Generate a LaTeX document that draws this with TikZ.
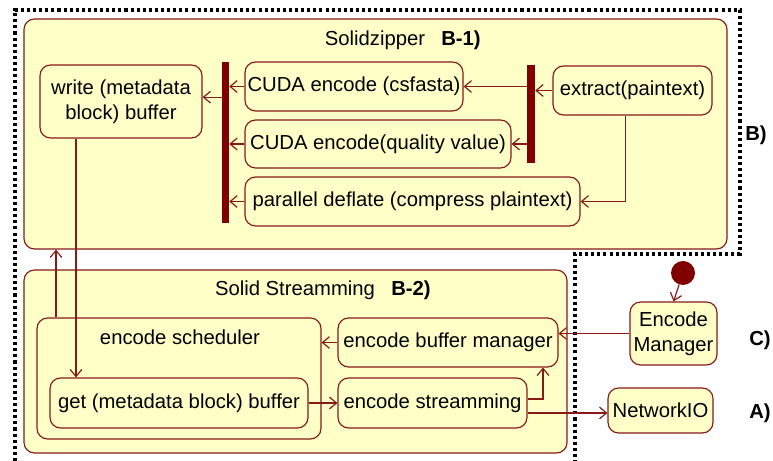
\documentclass[tikz,border=0pt]{standalone}
\usepackage{fontspec}
\setmainfont{Liberation Sans}
\usetikzlibrary{arrows.meta}
\definecolor{statefill}{RGB}{255,255,200}
\definecolor{stateline}{RGB}{135,25,25}
\definecolor{forkred}{RGB}{128,0,0}
\tikzset{
  state/.style={draw=stateline, fill=statefill, rounded corners=9pt, line width=1pt, inner sep=0pt, align=center},
  forkbar/.style={fill=forkred, draw=none, inner sep=0pt},
  flow/.style={draw=stateline, line width=1pt, -{Straight Barb[length=6pt,width=10pt]}},
  region/.style={line width=2.6pt, dash pattern=on 2.6pt off 2.6pt},
}
\begin{document}
\begin{tikzpicture}[x=0.03cm, y=-0.03cm, font=\fontsize{17.3}{21}\selectfont]
  \useasboundingbox (0,0) rectangle (773,461);
  % region B)
  \draw[region] (15,461) -- (15,10) -- (740,10) -- (740,254) -- (575,254) -- (575,461);
  % containers
  \node[state, minimum width=21.09cm, minimum height=6.9cm] (zipper) at (375.5,134) {};
  \node[state, minimum width=16.29cm, minimum height=5.49cm] (streaming) at (295.5,361.5) {};
  \node (zippertitle) at (375,40) {Solidzipper};
  \node (zippertag) at (461,40) {\bfseries B-1)};
  \node (streamtitle) at (295,290) {Solid Streamming};
  \node (streamtag) at (411,290) {\bfseries B-2)};
  % Solidzipper
  \node[state, minimum width=4.86cm, minimum height=2.19cm] (write) at (121,101.5) {write (metadata\\block) buffer};
  \node[state, minimum width=6.54cm, minimum height=1.47cm] (csfasta) at (354,86.5) {CUDA encode (csfasta)};
  \node[state, minimum width=7.98cm, minimum height=1.44cm] (quality) at (378,144) {CUDA encode(quality value)};
  \node[state, minimum width=10.05cm, minimum height=1.47cm] (deflate) at (412.5,201.5) {parallel deflate (compress plaintext)};
  \node[forkbar, minimum width=0.21cm, minimum height=4.83cm] (joinbar) at (225.5,142.5) {};
  \node[forkbar, minimum width=0.24cm, minimum height=2.94cm] (forkbar) at (531,114) {};
  \node[state, minimum width=4.77cm, minimum height=1.47cm] (extract) at (632.5,90.5) {extract(paintext)};
  % Solid Streamming
  \node[state, minimum width=8.52cm, minimum height=3.63cm] (scheduler) at (179,378.5) {};
  \node (schedtitle) at (180,337) {encode scheduler};
  \node[state, minimum width=7.74cm, minimum height=1.5cm] (getbuf) at (179,403) {get (metadata block) buffer};
  \node[state, minimum width=6.6cm, minimum height=1.47cm] (bufmgr) at (448,342.5) {encode buffer manager};
  \node[state, minimum width=5.67cm, minimum height=1.5cm] (streamming) at (432.5,403) {encode streamming};
  % outside
  \node[circle, fill=forkred, minimum size=0.72cm, inner sep=0pt] (start) at (683,273) {};
  \node[state, minimum width=2.61cm, minimum height=1.89cm] (encmgr) at (673.5,333.5) {Encode\\Manager};
  \node[state, minimum width=3.15cm, minimum height=1.35cm] (netio) at (660.5,410.5) {NetworkIO};
  \node (tagB) at (756,135) {\bfseries B)};
  \node (tagC) at (760,340) {\bfseries C)};
  \node (tagA) at (760,413) {\bfseries A)};
  % transitions
  \draw[flow] (extract.west) -- (extract.west -| forkbar.east);
  \draw[flow] (forkbar.west |- csfasta.east) -- (csfasta.east);
  \draw[flow] (forkbar.west |- quality.east) -- (quality.east);
  \draw[flow] ([xshift=-0.22cm]extract.south) |- (deflate.east);
  \draw[flow] (csfasta.west) -- (csfasta.west -| joinbar.east);
  \draw[flow] (quality.west) -- (quality.west -| joinbar.east);
  \draw[flow] (deflate.west) -- (deflate.west -| joinbar.east);
  \draw[flow] ([yshift=0.13cm]joinbar.west |- write.east) -- ([yshift=0.13cm]write.east);
  \draw[flow] ([xshift=-1.35cm]write.south) -- ([xshift=-1.35cm]write.south |- getbuf.north);
  \draw[flow] ([xshift=-3.69cm]scheduler.north) -- ([xshift=-3.69cm]scheduler.north |- zipper.south);
  \draw[flow] (getbuf.east) -- (streamming.west);
  \draw[flow] (bufmgr.west) -- (bufmgr.west -| scheduler.east);
  \draw[flow] ([yshift=0.12cm]streamming.east) -| ([xshift=2.85cm]bufmgr.south);
  \draw[flow] ([yshift=-0.3cm]streamming.east) -- ([yshift=-0.3cm]streamming.east -| netio.west);
  \draw[flow] (start) -- (encmgr.north);
  \draw[flow] (encmgr.west) -- (encmgr.west -| bufmgr.east);
\end{tikzpicture}
\end{document}
